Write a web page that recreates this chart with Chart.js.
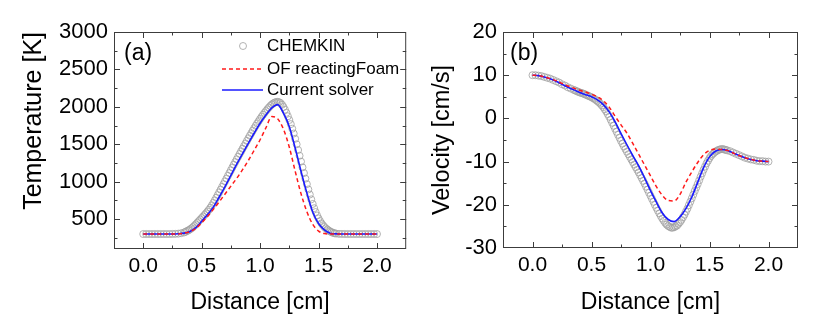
<!DOCTYPE html>
<html>
<head>
<meta charset="utf-8">
<title>Temperature and velocity profiles</title>
<script src="https://cdn.jsdelivr.net/npm/chart.js@4.4.1/dist/chart.umd.min.js"></script>
<style>
  html, body { margin: 0; padding: 0; background: #fff; }
  .panel { position: absolute; top: 0; width: 411px; height: 325px; }
  #boxA { left: 0; }
  #boxB { left: 411px; }
</style>
</head>
<body>
<div class="panel" id="boxA"><canvas id="chartT" width="411" height="325"></canvas></div>
<div class="panel" id="boxB"><canvas id="chartV" width="411" height="325"></canvas></div>
<script>
// --- donnees ---

// grille CHEMKIN (cm), plus fine dans la zone de flamme
const ckDist = [
  0.000, 0.025, 0.050, 0.075, 0.100, 0.125, 0.150, 0.175,
  0.200, 0.225, 0.250, 0.275, 0.300, 0.325, 0.350,
  0.3625, 0.3750, 0.3875, 0.4000, 0.4125, 0.4250, 0.4375, 0.4500,
  0.4625, 0.4750, 0.4875, 0.5000, 0.5125, 0.5250, 0.5375, 0.5500,
  0.5625, 0.5750, 0.5875, 0.6000, 0.6125, 0.6250, 0.6375, 0.6500,
  0.6625, 0.6750, 0.6875, 0.7000, 0.7125, 0.7250, 0.7375, 0.7500,
  0.7625, 0.7750, 0.7875, 0.8000, 0.8125, 0.8250, 0.8375, 0.8500,
  0.8625, 0.8750, 0.8875, 0.9000, 0.9125, 0.9250, 0.9375, 0.9500,
  0.9625, 0.9750, 0.9875, 1.0000, 1.0125, 1.0250, 1.0375, 1.0500,
  1.0625, 1.0750, 1.0875, 1.1000, 1.1125, 1.1250, 1.1375, 1.1500,
  1.1625, 1.1750, 1.1875, 1.2000, 1.2125, 1.2250, 1.2375, 1.2500,
  1.2625, 1.2750, 1.2875, 1.3000, 1.3125, 1.3250, 1.3375, 1.3500,
  1.3625, 1.3750, 1.3875, 1.4000, 1.4125, 1.4250, 1.4375, 1.4500,
  1.4625, 1.4750, 1.4875, 1.5000, 1.5125, 1.5250, 1.5375, 1.5500,
  1.5625, 1.5750, 1.5875, 1.6000, 1.6125, 1.6250, 1.6375, 1.6500,
  1.675, 1.700, 1.725, 1.750, 1.775, 1.800, 1.825, 1.850,
  1.875, 1.900, 1.925, 1.950, 1.975, 2.000];

// grille des solveurs OpenFOAM (cm)
const simDist = [0.00, 0.05, 0.10, 0.15, 0.20, 0.25, 0.30, 0.35, 0.40, 0.45,
  0.50, 0.55, 0.60, 0.65, 0.70, 0.75, 0.80, 0.85, 0.90, 0.95,
  1.00, 1.05, 1.10, 1.15, 1.20, 1.25, 1.30, 1.35, 1.40, 1.45,
  1.50, 1.55, 1.60, 1.65, 1.70, 1.75, 1.80, 1.85, 1.90, 1.95, 2.00];

// temperature [K]
const ckTemp = [
  300, 300, 300, 300, 300, 300, 300, 300,
  300, 300, 301, 302, 305, 311, 321,
  330, 340, 350, 362, 376, 392, 410, 430,
  451, 472, 493, 514, 535, 556, 578, 601,
  626, 653, 683, 716, 750, 785, 821, 857,
  893, 930, 967, 1004, 1041, 1078, 1115, 1152,
  1189, 1226, 1262, 1298, 1334, 1370, 1405, 1440,
  1475, 1510, 1545, 1580, 1614, 1648, 1682, 1715,
  1747, 1778, 1808, 1838, 1866, 1893, 1919, 1944,
  1968, 1991, 2012, 2031, 2046, 2057, 2064, 2066,
  2062, 2050, 2028, 1998, 1962, 1920, 1874, 1824,
  1769, 1708, 1643, 1573, 1499, 1423, 1346, 1268,
  1191, 1115, 1040, 967, 896, 828, 763, 702,
  645, 594, 548, 508, 473, 443, 417, 395,
  376, 360, 346, 334, 324, 316, 310, 306,
  302, 301, 300, 300, 300, 300, 300, 300,
  300, 300, 300, 300, 300, 300];
const ofTemp = [300, 300, 300, 300, 300, 300, 302, 312, 332, 375,
  450, 535, 630, 730, 835, 940, 1045, 1160, 1285, 1420,
  1560, 1720, 1870, 1840, 1700, 1460, 1140, 840, 600, 430,
  340, 306, 300, 300, 300, 300, 300, 300, 300, 300, 300];
const curTemp = [300, 300, 300, 300, 300, 300, 303, 312, 335, 385,
  470, 560, 660, 795, 935, 1085, 1235, 1375, 1515, 1650,
  1780, 1890, 1985, 2030, 1915, 1735, 1450, 1140, 850, 595,
  440, 355, 312, 302, 300, 300, 300, 300, 300, 300, 300];

// vitesse [cm/s]
const ckVel = [
  10.0, 10.0, 9.9, 9.8, 9.6, 9.4, 9.2, 8.9,
  8.6, 8.3, 7.9, 7.6, 7.2, 6.9, 6.6,
  6.45, 6.3, 6.15, 6.0, 5.9, 5.8, 5.65, 5.5,
  5.35, 5.2, 5.05, 4.9, 4.7, 4.5, 4.25, 4.0,
  3.7, 3.4, 3.0, 2.6, 2.1, 1.6, 1.0, 0.4,
  -0.3, -1.0, -1.7, -2.4, -3.1, -3.8, -4.5, -5.2,
  -5.85, -6.5, -7.1, -7.7, -8.3, -8.9, -9.5, -10.1,
  -10.7, -11.3, -11.9, -12.5, -13.15, -13.8, -14.45, -15.1,
  -15.8, -16.5, -17.2, -17.9, -18.6, -19.3, -20.0, -20.7,
  -21.35, -22.0, -22.6, -23.2, -23.7, -24.2, -24.6, -24.9,
  -25.1, -25.3, -25.3, -25.2, -25.0, -24.8, -24.4, -24.0,
  -23.5, -22.9, -22.3, -21.6, -20.9, -20.1, -19.3, -18.5,
  -17.65, -16.8, -16.0, -15.2, -14.35, -13.5, -12.7, -11.9,
  -11.15, -10.4, -9.8, -9.2, -8.7, -8.3, -8.0, -7.7,
  -7.5, -7.3, -7.2, -7.1, -7.1, -7.2, -7.3, -7.4,
  -7.6, -7.9, -8.2, -8.5, -8.8, -9.1, -9.3, -9.5,
  -9.6, -9.8, -9.9, -9.9, -10.0, -10.0];
const ofVel = [10.0, 9.9, 9.6, 9.2, 8.7, 8.1, 7.5, 7.0, 6.5, 6.1,
  5.6, 5.0, 4.1, 2.6, 0.5, -1.5, -3.4, -5.8, -8.3, -10.8,
  -13.3, -15.8, -17.8, -19.0, -19.1, -17.6, -14.8, -12.4, -10.2, -8.4,
  -7.4, -7.1, -7.2, -7.4, -8.0, -8.6, -9.1, -9.5, -9.8, -9.9, -10.0];
const curVel = [10.0, 9.9, 9.6, 9.2, 8.6, 7.9, 7.2, 6.6, 6.0, 5.5,
  5.0, 4.3, 3.2, 1.5, -0.8, -3.5, -6.1, -8.6, -11.0, -13.8,
  -16.7, -19.4, -21.9, -23.4, -23.9, -22.8, -20.9, -18.2, -14.8, -11.4,
  -8.9, -7.6, -7.2, -7.4, -8.0, -8.6, -9.1, -9.5, -9.8, -9.9, -10.0];

// graduations
const distTicks = [0, 0.5, 1.0, 1.5, 2.0];
const tempTicks = [500, 1000, 1500, 2000, 2500, 3000];
const velTicks = [-30, -20, -10, 0, 10, 20];

const seriesNames = ['CHEMKIN', 'OF reactingFoam', 'Current solver'];

Chart.defaults.font.family = "'Liberation Sans', Arial, sans-serif";
Chart.defaults.color = '#000';

function pts(xs, ys) {
  return xs.map((x, i) => ({ x: x, y: ys[i] }));
}

function makeSets(ck, of, cur) {
  return [
    { label: seriesNames[0], data: pts(ckDist, ck), showLine: false, order: 3,
      pointStyle: 'circle', pointRadius: 3.5, pointBorderWidth: 0.8,
      pointBorderColor: '#a0a0a0', pointBackgroundColor: 'rgba(0,0,0,0)' },
    { label: seriesNames[1], data: pts(simDist, of), order: 1,
      borderColor: '#ff1a1a', borderWidth: 1.5, borderDash: [4, 3],
      pointRadius: 0, cubicInterpolationMode: 'monotone' },
    { label: seriesNames[2], data: pts(simDist, cur), order: 2,
      borderColor: '#1a1aff', borderWidth: 1.6,
      pointRadius: 0, cubicInterpolationMode: 'monotone' }
  ];
}

// cadre + graduations vers l'interieur + etiquette (a)/(b) + legende
const frameTicks = {
  id: 'frameTicks',
  afterDraw(chart, args, opts) {
    const { ctx, chartArea: a, scales: { x, y } } = chart;
    ctx.save();
    ctx.strokeStyle = '#3c3c3c';
    ctx.lineWidth = 1;

    function marks(scale, major, horiz) {
      const step = major[1] - major[0];
      const all = [];
      major.forEach(v => all.push([v, 6]));
      major.forEach(v => all.push([v - step / 2, 3.5]));
      all.push([major[major.length - 1] + step / 2, 3.5]);
      all.forEach(([v, len]) => {
        if (v <= scale.min || v >= scale.max) return;
        const p = Math.round(scale.getPixelForValue(v)) + 0.5;
        ctx.beginPath();
        if (horiz) {
          ctx.moveTo(p, a.bottom); ctx.lineTo(p, a.bottom - len);
          ctx.moveTo(p, a.top); ctx.lineTo(p, a.top + len);
        } else {
          ctx.moveTo(a.left, p); ctx.lineTo(a.left + len, p);
          ctx.moveTo(a.right, p); ctx.lineTo(a.right - len, p);
        }
        ctx.stroke();
      });
    }
    marks(x, distTicks, true);
    marks(y, opts.yTicks, false);
    ctx.strokeRect(a.left + 0.5, a.top + 0.5, a.width - 1, a.height - 1);

    ctx.fillStyle = '#000';
    ctx.font = "23px 'Liberation Sans', Arial, sans-serif";
    ctx.textBaseline = 'middle';
    ctx.textAlign = 'left';
    ctx.fillText(opts.label, opts.labelX, 54);

    if (opts.legend) {
      const ds = chart.data.datasets;
      const rows = [46, 69, 90];
      ctx.font = "17px 'Liberation Sans', Arial, sans-serif";
      ds.forEach((d, i) => {
        const ry = rows[i];
        if (d.showLine === false) {
          ctx.beginPath();
          ctx.arc(243, ry, d.pointRadius, 0, Math.PI * 2);
          ctx.strokeStyle = d.pointBorderColor;
          ctx.lineWidth = d.pointBorderWidth;
          ctx.stroke();
        } else {
          ctx.beginPath();
          ctx.setLineDash(d.borderDash || []);
          ctx.strokeStyle = d.borderColor;
          ctx.lineWidth = d.borderWidth;
          ctx.moveTo(222, ry); ctx.lineTo(263, ry);
          ctx.stroke();
          ctx.setLineDash([]);
        }
        ctx.fillStyle = '#000';
        ctx.fillText(d.label, 267, ry);
      });
    }
    ctx.restore();
  }
};

function makeChart(id, sets, yMin, yMax, yTicks, yTitle, cfg) {
  return new Chart(document.getElementById(id), {
    type: 'line',
    data: { datasets: sets },
    options: {
      responsive: false,
      animation: false,
      layout: { padding: { top: 32, right: cfg.padRight, left: 0, bottom: 0 } },
      plugins: {
        legend: { display: false },
        tooltip: { enabled: false },
        frameTicks: { yTicks: yTicks, label: cfg.label, labelX: cfg.labelX, legend: cfg.legend }
      },
      scales: {
        x: {
          type: 'linear', min: -0.25, max: 2.25,
          afterBuildTicks: s => { s.ticks = distTicks.map(v => ({ value: v })); },
          afterFit: s => { s.height = cfg.xHeight; },
          grid: { display: false, drawTicks: false },
          border: { display: false },
          ticks: { font: { size: 21 }, padding: 5, maxRotation: 0,
            callback: v => Number(v).toFixed(1) },
          title: { display: true, text: 'Distance [cm]', font: { size: 23 },
            padding: { top: 0, bottom: 9 } }
        },
        y: {
          type: 'linear', min: yMin, max: yMax,
          afterBuildTicks: s => { s.ticks = yTicks.map(v => ({ value: v })); },
          afterFit: s => { s.width = cfg.yWidth; },
          grid: { display: false, drawTicks: false },
          border: { display: false },
          ticks: { font: { size: 22 }, padding: 6, callback: v => String(v) },
          title: { display: true, text: yTitle, font: { size: cfg.yTitleSize },
            align: cfg.yTitleAlign, padding: { top: cfg.yTitlePad, bottom: 0 } }
        }
      }
    },
    plugins: [frameTicks]
  });
}

makeChart('chartT', makeSets(ckTemp, ofTemp, curTemp), 100, 3000, tempTicks, 'Temperature [K]',
  { padRight: 2, xHeight: 76, yWidth: 114, label: '(a)', labelX: 124, legend: true,
    yTitleSize: 25, yTitleAlign: 'end', yTitlePad: 19 });

makeChart('chartV', makeSets(ckVel, ofVel, curVel), -30, 20, velTicks, 'Velocity [cm/s]',
  { padRight: 24, xHeight: 77, yWidth: 92, label: '(b)', labelX: 99, legend: false,
    yTitleSize: 23.5, yTitleAlign: 'center', yTitlePad: 17 });
</script>
</body>
</html>
